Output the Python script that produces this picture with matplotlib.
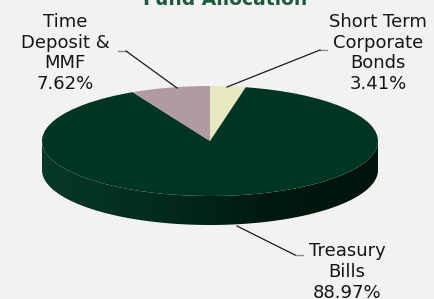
import numpy as np
import matplotlib
matplotlib.use("Agg")
import matplotlib.pyplot as plt
from matplotlib.colors import LinearSegmentedColormap
from matplotlib.patches import Polygon

# data
labels = ["Short Term\nCorporate\nBonds", "Treasury\nBills", "Time\nDeposit &\nMMF"]
shares = [3.41, 88.97, 7.62]
colors = ["#e6e8c2", "#003424", "#b09ba0"]
title = "Fund Allocation"

W, H = 434, 299
CX, CY = 210, 141      # pie centre in pixels
A, B = 168, 55         # ellipse semi-axes in pixels
DEPTH = 29 / B         # side height in data units
BG = "#f2f2f2"


def px(x, y):
    return (x - CX) / A, (CY - y) / B


fig = plt.figure(figsize=(W / 100, H / 100), dpi=100, facecolor=BG)
ax = fig.add_axes([0, 0, 1, 1])
ax.set_facecolor(BG)

wedges, _ = ax.pie(shares, colors=colors, startangle=90, counterclock=False,
                   radius=1.0, center=(0, 0), wedgeprops=dict(linewidth=0, zorder=3))
ax.set_aspect("auto")
ax.set_xlim(-CX / A, (W - CX) / A)
ax.set_ylim(-(H - CY) / B, CY / B)
ax.axis("off")

# side of the 3d pie: the big treasury slice covers the whole front half
ts = np.linspace(np.pi, 2 * np.pi, 200)
top = np.column_stack([np.cos(ts), np.sin(ts)])
bottom = top[::-1] - [0, DEPTH]
side = Polygon(np.vstack([top, bottom]), closed=True, facecolor="none", edgecolor="none")
ax.add_patch(side)
side_cmap = LinearSegmentedColormap.from_list("side", ["#06392a", "#022c1e", "#001a11", "#00140c"])
grad = ax.imshow(np.linspace(0, 1, 256).reshape(1, -1), cmap=side_cmap, aspect="auto",
                 extent=(-1, 1, -1 - DEPTH, 0.05), zorder=2, interpolation="bilinear")
grad.set_clip_path(side)
ax.set_xlim(-CX / A, (W - CX) / A)
ax.set_ylim(-(H - CY) / B, CY / B)


# leader lines
def leader(p_text, p_mid, p_pie):
    xs, ys = zip(*[px(*p) for p in (p_text, p_mid)])
    ax.plot(xs, ys, color="#8a8a8a", lw=1.0, zorder=5)
    xs, ys = zip(*[px(*p) for p in (p_mid, p_pie)])
    ax.plot(xs, ys, color="#1a1a1a", lw=0.9, zorder=5)


leader((118, 51), (126, 51), (177, 88))
leader((327, 50), (320, 50), (227, 87))
leader((303, 255), (295, 255), (237, 226))

font = dict(family="DejaVu Sans", size=13, color="#151515", ha="center", va="center",
            multialignment="center", zorder=6)
label_pos = [(378, 53), (347, 272), (65, 53)]
for lab, val, (x, y) in zip(labels, shares, label_pos):
    ax.text(*px(x, y), f"{lab}\n{val:.2f}%", **font)

ax.text(*px(225, 5), title, ha="center", va="baseline", fontsize=13.5,
        fontweight="bold", color="#1d5a3c", family="DejaVu Sans")

fig.savefig("out.png", dpi=100, facecolor=BG)
